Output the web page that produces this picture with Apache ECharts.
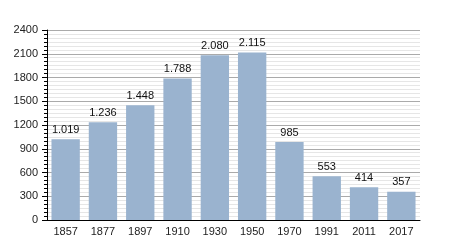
<!DOCTYPE html>
<html><head><meta charset="utf-8">
<script src="https://cdn.jsdelivr.net/npm/echarts@6/dist/echarts.min.js"></script>
<style>html,body{margin:0;padding:0;background:#fff}#c{width:450px;height:250px}</style>
</head><body><div id="c"></div>
<script>
var years = ['1857','1877','1897','1910','1930','1950','1970','1991','2011','2017'];
var population = [1019, 1236, 1448, 1788, 2080, 2115, 985, 553, 414, 357];
var yTicks = [0, 300, 600, 900, 1200, 1500, 1800, 2100, 2400];

function fmt(v){ return String(v).replace(/\B(?=(\d{3})+(?!\d))/g, '.'); }

var chart = echarts.init(document.getElementById('c'), null, {renderer:'canvas'});
chart.setOption({
  animation:false,
  textStyle:{fontFamily:'Liberation Sans, Arial, sans-serif'},
  grid:{left:47, right:30, top:30, bottom:30, containLabel:false},
  xAxis:{
    type:'category', data:years,
    axisLine:{lineStyle:{color:'#000', width:1}},
    axisTick:{show:false},
    axisLabel:{color:'#222', fontSize:11, margin:6}
  },
  yAxis:{
    type:'value', min:yTicks[0], max:yTicks[yTicks.length-1], interval:300,
    axisLine:{show:true, lineStyle:{color:'#000', width:1}},
    axisTick:{show:true, length:5, lineStyle:{color:'#000'}},
    minorTick:{show:true, splitNumber:6, length:3, lineStyle:{color:'#000'}},
    splitLine:{show:true, lineStyle:{color:'#aaa', width:1}},
    minorSplitLine:{show:true, lineStyle:{color:'#e6e6e6', width:1}},
    axisLabel:{color:'#222', fontSize:11, margin:9, formatter:function(v){return String(v);}}
  },
  series:[{
    type:'bar', data:population, barWidth:'76%',
    itemStyle:{color:'#9ab3cf'},
    label:{show:true, position:'top', distance:4, color:'#111', fontSize:11, formatter:function(p){return fmt(p.value);}}
  }]
});
</script></body></html>
